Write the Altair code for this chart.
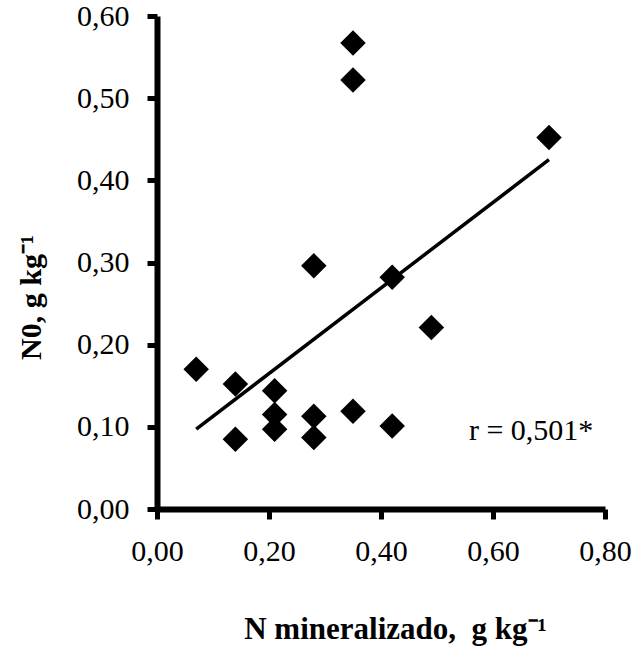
import altair as alt
import pandas as pd

# Mineralised N vs. N0 (g kg-1)
n_mineralizado = [0.07, 0.14, 0.14, 0.21, 0.21, 0.21, 0.28, 0.28, 0.28,
                  0.35, 0.35, 0.35, 0.42, 0.42, 0.49, 0.70]
n0 = [0.170, 0.152, 0.085, 0.144, 0.115, 0.097, 0.296, 0.113, 0.087,
      0.567, 0.522, 0.119, 0.282, 0.101, 0.221, 0.452]

r_label = ["r = 0,501*"]
r_pos_x = [0.557]
r_pos_y = [0.084]

FONT = "Liberation Serif"

df = pd.DataFrame({"x": n_mineralizado, "y": n0})
ann = pd.DataFrame({"x": r_pos_x, "y": r_pos_y, "t": r_label})

comma = "replace(format(datum.value, '.2f'), '.', ',')"

x_enc = alt.X(
    "x:Q",
    scale=alt.Scale(domain=[0, 0.8], nice=False, zero=True),
    axis=alt.Axis(
        values=[0, 0.2, 0.4, 0.6, 0.8],
        labelExpr=comma,
        labelFlush=False,
        labelPadding=17,
        title="N mineralizado,\u00a0 g kg\u207b\u00b9",
        titleX=238,
        titleY=129,
        titleAlign="center",
        titleBaseline="alphabetic",
        titleFontSize=31,
    ),
)
y_enc = alt.Y(
    "y:Q",
    scale=alt.Scale(domain=[0, 0.6], nice=False),
    axis=alt.Axis(
        values=[0, 0.1, 0.2, 0.3, 0.4, 0.5, 0.6],
        labelExpr=comma,
        labelPadding=18,
        title="N0, g kg\u207b\u00b9",
        titleAngle=270,
        titleX=-117,
        titleY=281,
        titleAlign="center",
        titleBaseline="alphabetic",
    ),
)

points = alt.Chart(df).mark_point(
    shape="diamond", filled=True, color="black", size=650, opacity=1
).encode(x=x_enc, y=y_enc)

trend = alt.Chart(df).transform_regression("x", "y").mark_line(
    color="black", strokeWidth=3.5
).encode(x="x:Q", y="y:Q")

label = alt.Chart(ann).mark_text(
    font=FONT, fontSize=30, color="black", align="left", baseline="alphabetic"
).encode(x="x:Q", y="y:Q", text="t:N")

chart = (
    alt.layer(trend, points, label)
    .properties(
        width=448,
        height=493,
        autosize=alt.AutoSizeParams(type="none"),
        padding={"left": 157, "top": 16, "right": 38, "bottom": 140},
        background="white",
    )
    .configure_view(stroke=None)
    .configure_axis(
        grid=False,
        domainColor="black",
        domainWidth=6,
        tickColor="black",
        tickWidth=5,
        tickSize=10,
        labelFont=FONT,
        labelFontSize=30,
        labelColor="black",
        labelOverlap=False,
        titleFont=FONT,
        titleFontSize=30,
        titleFontWeight="bold",
        titleColor="black",
    )
)

chart.save("out.html", embed_options={"renderer": "svg", "actions": False})
